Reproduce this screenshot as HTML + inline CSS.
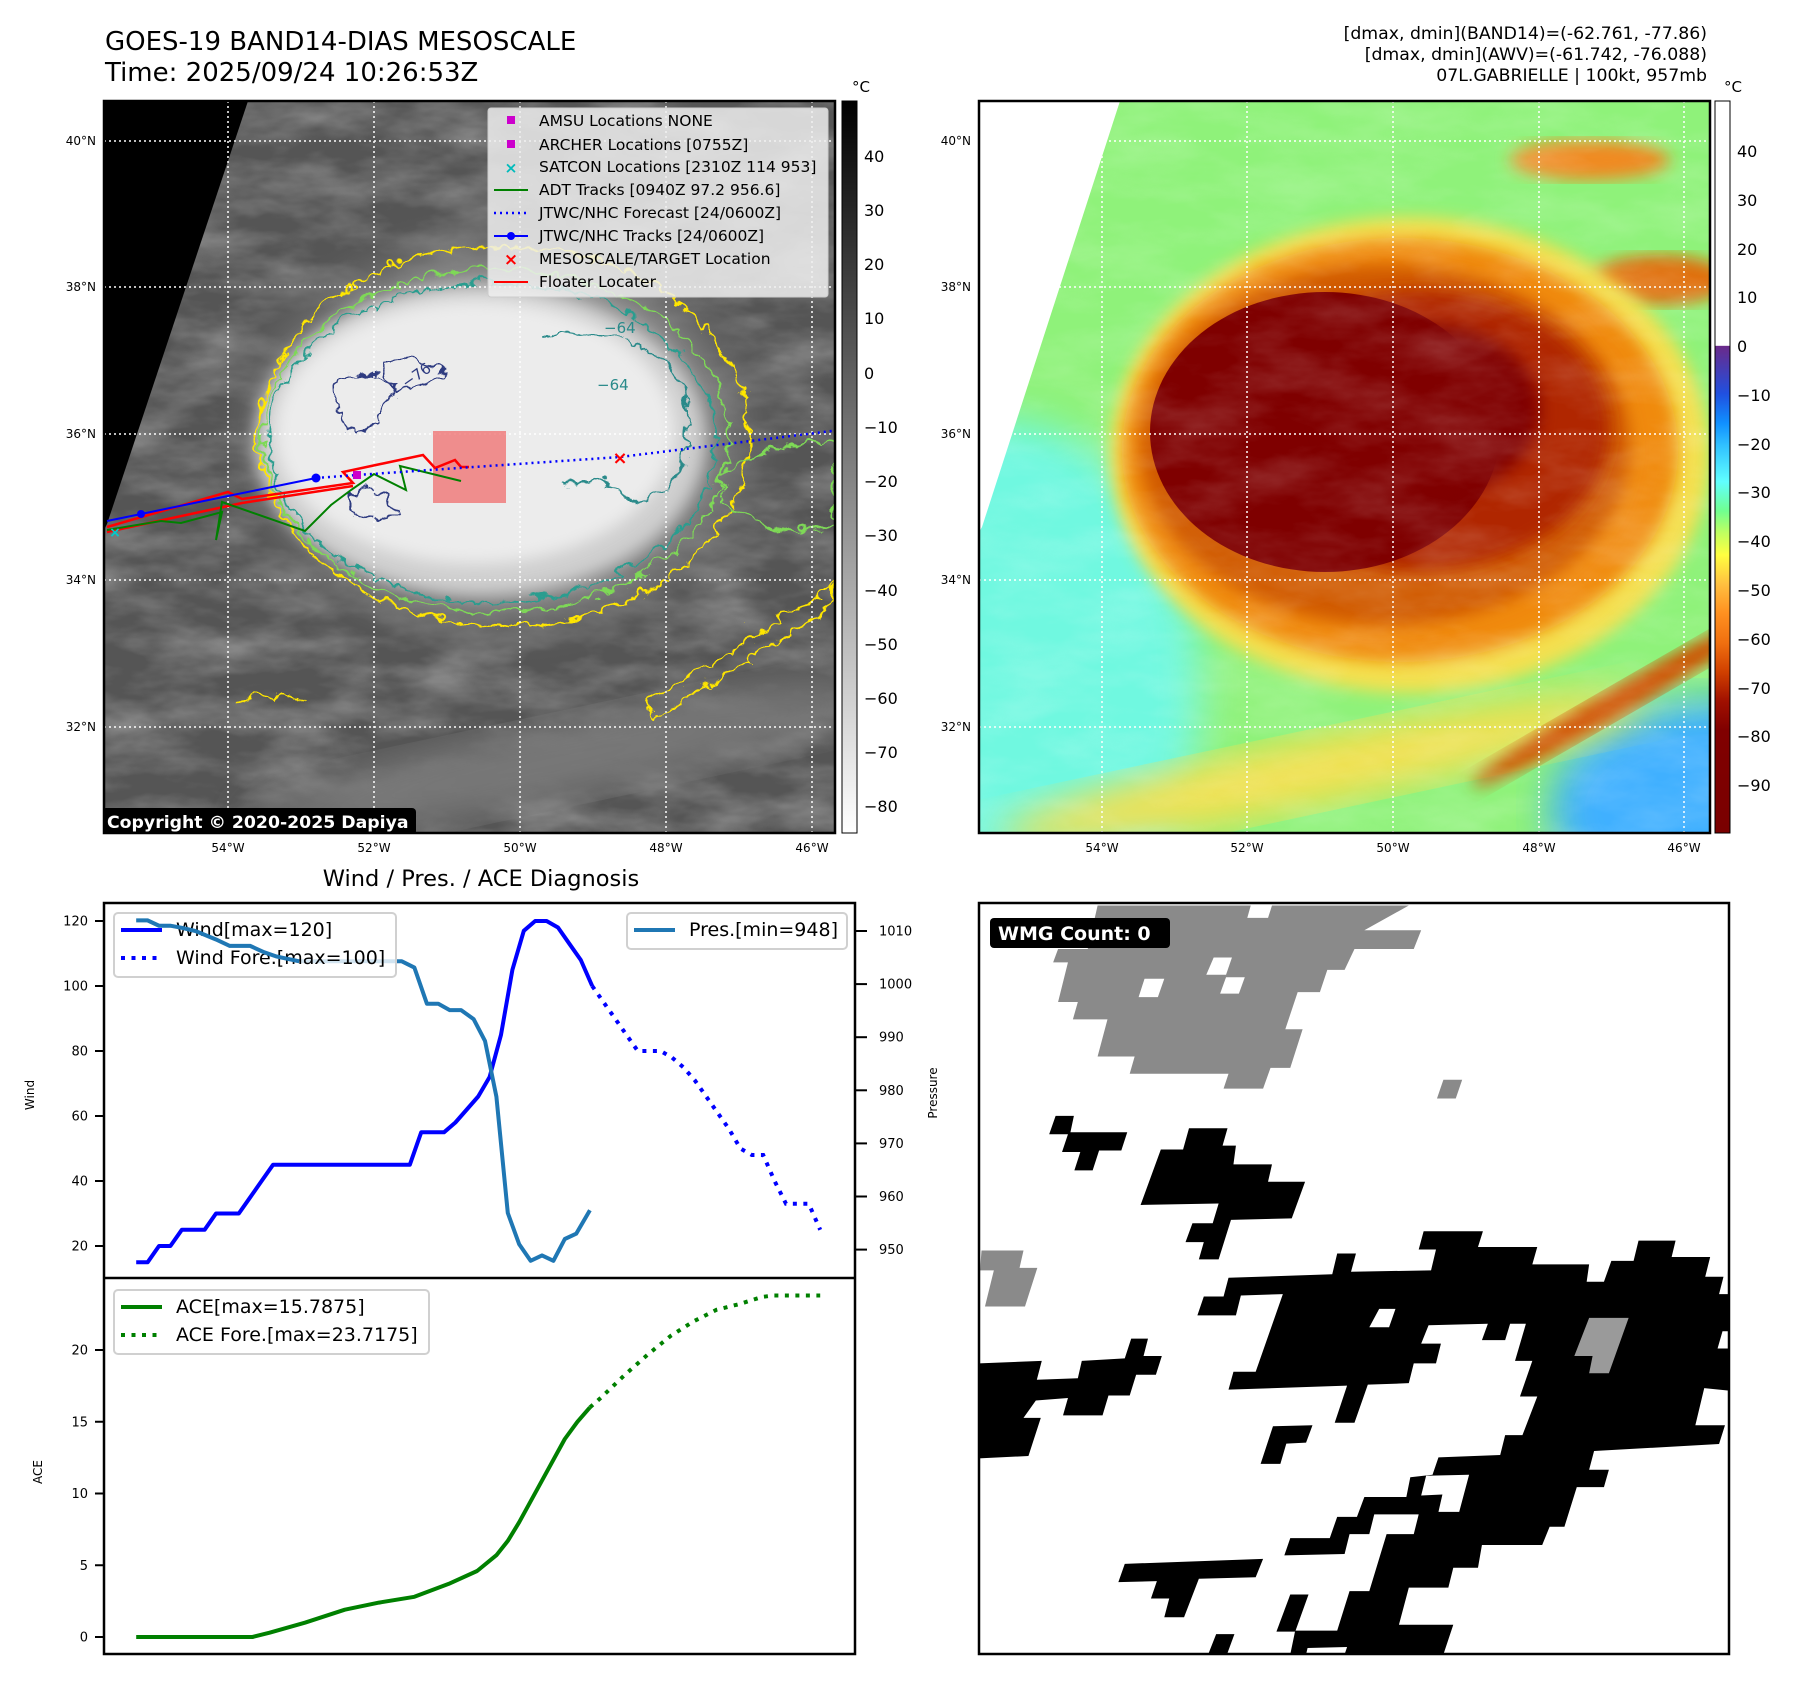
<!DOCTYPE html>
<html><head><meta charset="utf-8"><style>
html,body{margin:0;padding:0;background:#fff}
svg{display:block;font-family:"DejaVu Sans","Liberation Sans",sans-serif}
</style></head><body>
<svg id="fig" width="1797" height="1690" viewBox="0 0 1797 1690" xmlns="http://www.w3.org/2000/svg">
<defs>
<clipPath id="c1"><rect x="104" y="101" width="731" height="732"/></clipPath>
<clipPath id="c2"><rect x="979" y="101" width="731" height="732"/></clipPath>
<clipPath id="c3"><rect x="979" y="903" width="750" height="751"/></clipPath>
<filter id="clouds" x="0" y="0" width="100%" height="100%"><feTurbulence type="fractalNoise" baseFrequency="0.012 0.03" numOctaves="4" seed="7"/><feColorMatrix type="matrix" values="0 0 0 0 1 0 0 0 0 1 0 0 0 0 1 1.6 0 0 0 -0.55"/></filter>
<filter id="wob" x="-10%" y="-10%" width="120%" height="120%"><feTurbulence type="turbulence" baseFrequency="0.045" numOctaves="2" seed="3" result="n"/><feDisplacementMap in="SourceGraphic" in2="n" scale="16" xChannelSelector="R" yChannelSelector="G"/></filter>
<filter id="blur8"><feGaussianBlur stdDeviation="8"/></filter>
<filter id="blur20"><feGaussianBlur stdDeviation="20"/></filter>
<linearGradient id="gray" x1="0" y1="0" x2="0" y2="1"><stop offset="0" stop-color="#000"/><stop offset="1" stop-color="#fff"/></linearGradient>
<linearGradient id="cmap" x1="0" y1="0" x2="0" y2="1">
<stop offset="0" stop-color="#fff"/><stop offset="0.334" stop-color="#fff"/>
<stop offset="0.335" stop-color="#6a2a8a"/><stop offset="0.40" stop-color="#2050e0"/>
<stop offset="0.44" stop-color="#1090ff"/><stop offset="0.47" stop-color="#30c0ff"/>
<stop offset="0.52" stop-color="#60ffff"/><stop offset="0.56" stop-color="#70ff90"/>
<stop offset="0.59" stop-color="#c0ff60"/><stop offset="0.62" stop-color="#ffff40"/>
<stop offset="0.66" stop-color="#ffc040"/><stop offset="0.70" stop-color="#ff9020"/>
<stop offset="0.74" stop-color="#f07010"/><stop offset="0.78" stop-color="#d04000"/>
<stop offset="0.82" stop-color="#a01000"/><stop offset="0.86" stop-color="#800000"/><stop offset="1" stop-color="#7a0000"/>
</linearGradient>
<radialGradient id="glow"><stop offset="0" stop-color="#bdbdbd"/><stop offset="0.7" stop-color="#8a8a8a"/><stop offset="1" stop-color="#5a5a5a" stop-opacity="0"/></radialGradient>
</defs>

<text x="105" y="50" font-size="26">GOES-19 BAND14-DIAS MESOSCALE</text>
<text x="105" y="81" font-size="26">Time: 2025/09/24 10:26:53Z</text>
<g font-size="17.3" text-anchor="end">
<text x="1707" y="39">[dmax, dmin](BAND14)=(-62.761, -77.86)</text>
<text x="1707" y="60">[dmax, dmin](AWV)=(-61.742, -76.088)</text>
<text x="1707" y="81">07L.GABRIELLE | 100kt, 957mb</text>
</g>

<g clip-path="url(#c1)">
<rect x="104" y="101" width="731" height="732" fill="#555"/>
<rect x="104" y="101" width="731" height="732" filter="url(#clouds)" opacity="0.35"/>
<ellipse cx="560" cy="760" rx="320" ry="40" fill="#777" filter="url(#blur20)" transform="rotate(-12 560 760)"/>
<ellipse cx="500" cy="435" rx="290" ry="230" fill="url(#glow)"/>
<ellipse cx="480" cy="440" rx="225" ry="155" fill="#cfcfcf" filter="url(#blur8)"/>
<ellipse cx="475" cy="432" rx="200" ry="132" fill="#ececec" filter="url(#blur8)"/>
<g fill="none" stroke-width="2" filter="url(#wob)">
<ellipse cx="500" cy="432" rx="245" ry="190" stroke="#ffe600"/>
<ellipse cx="492" cy="436" rx="233" ry="172" stroke="#7ed957"/>
<ellipse cx="488" cy="438" rx="224" ry="160" stroke="#2a9d8f"/>
<path d="M540 330 Q640 320 680 380 Q700 470 640 500 Q600 470 560 480" stroke="#2a8a8a"/>
<path d="M330 380 Q360 360 390 380 Q380 420 350 430 Q330 410 330 380Z M380 360 Q420 350 440 370 Q420 390 390 390Z M345 490 Q380 480 395 510 Q370 520 345 505Z" stroke="#2d3a80"/>
<path d="M640 700 Q740 640 830 580 L830 600 Q740 660 650 715Z" stroke="#ffe600"/>
<path d="M230 700 Q260 690 300 695" stroke="#ffe600"/>
<path d="M720 470 Q780 430 830 440 L830 520 Q770 540 720 500Z" stroke="#7ed957"/>
</g>
<g font-size="15" fill="#2a8a8a"><text x="604" y="333">−64</text><text x="597" y="390">−64</text></g>
<text x="402" y="385" font-size="15" fill="#2d3a80" transform="rotate(-35 410 380)">−76</text>
<polygon points="104,101 248,101 107,524 104,530" fill="#000"/>
<g stroke="#fff" stroke-width="1.5" stroke-dasharray="2 3">
<line x1="228" y1="101" x2="228" y2="833"/><line x1="374" y1="101" x2="374" y2="833"/><line x1="520" y1="101" x2="520" y2="833"/><line x1="666" y1="101" x2="666" y2="833"/><line x1="812" y1="101" x2="812" y2="833"/>
<line x1="104" y1="141" x2="835" y2="141"/><line x1="104" y1="287" x2="835" y2="287"/><line x1="104" y1="434" x2="835" y2="434"/><line x1="104" y1="580" x2="835" y2="580"/><line x1="104" y1="727" x2="835" y2="727"/>
</g>
<rect x="433" y="431" width="73" height="72" fill="rgb(240,110,110)" opacity="0.75"/>
<polyline points="107,527 228,492 242,499 353,483 343,472 423,455 435,468 455,460 461,467 469,467" fill="none" stroke="#f00" stroke-width="2.5"/>
<polyline points="107,532 242,503 353,486" fill="none" stroke="#f00" stroke-width="2.5"/>
<polyline points="107,530 161,521 181,523 222,512 216,540 222,502 305,531 331,505 351,490 374,474 406,490 400,466 461,481" fill="none" stroke="#008000" stroke-width="2"/>
<polyline points="107,521 141,514 228,496 316,478" fill="none" stroke="#00f" stroke-width="2"/>
<g fill="#00f"><circle cx="141" cy="514" r="4"/><circle cx="316" cy="478" r="4.5"/></g>
<polyline points="316,478 357,475 620,457 832,431" fill="none" stroke="#00f" stroke-width="2.5" stroke-dasharray="2 4"/>
<rect x="353" y="471" width="8" height="8" fill="#c0c"/>
<text x="620" y="464" font-size="18" fill="#f00" text-anchor="middle" font-weight="bold">×</text>
<text x="115" y="537" font-size="14" fill="#0cc" text-anchor="middle" font-weight="bold">×</text>
<g>
<rect x="488" y="108" width="340" height="189" rx="3" fill="#eee" fill-opacity="0.85" stroke="#ccc"/>
<g font-size="15.5">
<rect x="507" y="116" width="8" height="8" fill="#c0c"/><text x="539" y="126">AMSU Locations NONE</text>
<rect x="507" y="140" width="8" height="8" fill="#c0c"/><text x="539" y="150">ARCHER Locations [0755Z]</text>
<text x="511" y="173" fill="#0bb" text-anchor="middle" font-weight="bold">×</text><text x="539" y="172">SATCON Locations [2310Z 114 953]</text>
<line x1="494" y1="190" x2="528" y2="190" stroke="#008000" stroke-width="2"/><text x="539" y="195">ADT Tracks [0940Z 97.2 956.6]</text>
<line x1="494" y1="213" x2="528" y2="213" stroke="#00f" stroke-width="2.5" stroke-dasharray="2 4"/><text x="539" y="218">JTWC/NHC Forecast [24/0600Z]</text>
<line x1="494" y1="236" x2="528" y2="236" stroke="#00f" stroke-width="2"/><circle cx="511" cy="236" r="4" fill="#00f"/><text x="539" y="241">JTWC/NHC Tracks [24/0600Z]</text>
<text x="511" y="265" fill="#f00" text-anchor="middle" font-weight="bold" font-size="17">×</text><text x="539" y="264">MESOSCALE/TARGET Location</text>
<line x1="494" y1="282" x2="528" y2="282" stroke="#f00" stroke-width="2"/><text x="539" y="287">Floater Locater</text>
</g></g>
<rect x="102" y="808" width="314" height="27" rx="4" fill="#000"/>
<text x="107" y="828" font-size="17.3" font-weight="bold" fill="#fff">Copyright © 2020-2025 Dapiya</text>
</g>
<rect x="104" y="101" width="731" height="732" fill="none" stroke="#000" stroke-width="2.5"/>
<g font-size="12" text-anchor="end">
<text x="96" y="145">40°N</text><text x="96" y="291">38°N</text><text x="96" y="438">36°N</text><text x="96" y="584">34°N</text><text x="96" y="731">32°N</text></g>
<g font-size="12" text-anchor="middle">
<text x="228" y="852">54°W</text><text x="374" y="852">52°W</text><text x="520" y="852">50°W</text><text x="666" y="852">48°W</text><text x="812" y="852">46°W</text></g>
<rect x="842" y="101" width="15" height="732" fill="url(#gray)" stroke="#000"/>
<text x="861" y="92" font-size="15" text-anchor="middle">°C</text>
<g font-size="16">
<text x="864" y="162">40</text><text x="864" y="216">30</text><text x="864" y="270">20</text><text x="864" y="324">10</text><text x="864" y="379">0</text><text x="864" y="433">−10</text><text x="864" y="487">−20</text><text x="864" y="541">−30</text><text x="864" y="596">−40</text><text x="864" y="650">−50</text><text x="864" y="704">−60</text><text x="864" y="758">−70</text><text x="864" y="812">−80</text></g>

<g clip-path="url(#c2)">
<rect x="979" y="101" width="731" height="732" fill="#8ff27a"/>
<ellipse cx="1000" cy="690" rx="200" ry="270" fill="#70f8e0" filter="url(#blur20)"/>
<ellipse cx="1720" cy="810" rx="170" ry="110" fill="#40b0ff" filter="url(#blur20)"/>
<ellipse cx="1320" cy="770" rx="330" ry="35" fill="#f4e050" filter="url(#blur20)" transform="rotate(-12 1320 770)"/>
<ellipse cx="1620" cy="700" rx="170" ry="14" fill="#d05000" filter="url(#blur8)" transform="rotate(-30 1620 700)"/>
<ellipse cx="1590" cy="160" rx="80" ry="20" fill="#f08a20" filter="url(#blur8)"/>
<ellipse cx="1660" cy="280" rx="70" ry="25" fill="#e07010" filter="url(#blur8)"/>
<ellipse cx="1420" cy="290" rx="70" ry="16" fill="#f09a30" filter="url(#blur8)"/>
<ellipse cx="1410" cy="455" rx="300" ry="238" fill="#f4e050" filter="url(#blur8)"/>
<ellipse cx="1400" cy="450" rx="278" ry="212" fill="#f08a10" filter="url(#blur8)"/>
<ellipse cx="1385" cy="445" rx="245" ry="180" fill="#d05a00" filter="url(#blur8)"/>
<ellipse cx="1420" cy="430" rx="190" ry="140" fill="#b02800" filter="url(#blur8)"/>
<ellipse cx="1325" cy="432" rx="175" ry="140" fill="#7f0000"/>
<ellipse cx="1430" cy="410" rx="110" ry="85" fill="#800000" filter="url(#blur8)"/>
<rect x="979" y="101" width="731" height="732" filter="url(#clouds)" opacity="0.18"/>
<polygon points="979,101 1120,101 982,527 979,532" fill="#fff"/>
<g stroke="#fff" stroke-width="1.5" stroke-dasharray="2 3">
<line x1="1102" y1="101" x2="1102" y2="833"/><line x1="1247" y1="101" x2="1247" y2="833"/><line x1="1393" y1="101" x2="1393" y2="833"/><line x1="1539" y1="101" x2="1539" y2="833"/><line x1="1684" y1="101" x2="1684" y2="833"/>
<line x1="979" y1="141" x2="1710" y2="141"/><line x1="979" y1="287" x2="1710" y2="287"/><line x1="979" y1="434" x2="1710" y2="434"/><line x1="979" y1="580" x2="1710" y2="580"/><line x1="979" y1="727" x2="1710" y2="727"/>
</g></g>
<rect x="979" y="101" width="731" height="732" fill="none" stroke="#000" stroke-width="2.5"/>
<g font-size="12" text-anchor="end">
<text x="971" y="145">40°N</text><text x="971" y="291">38°N</text><text x="971" y="438">36°N</text><text x="971" y="584">34°N</text><text x="971" y="731">32°N</text></g>
<g font-size="12" text-anchor="middle">
<text x="1102" y="852">54°W</text><text x="1247" y="852">52°W</text><text x="1393" y="852">50°W</text><text x="1539" y="852">48°W</text><text x="1684" y="852">46°W</text></g>
<rect x="1715" y="101" width="15" height="732" fill="url(#cmap)" stroke="#000"/>
<text x="1733" y="92" font-size="15" text-anchor="middle">°C</text>
<g font-size="16">
<text x="1737" y="157">40</text><text x="1737" y="206">30</text><text x="1737" y="255">20</text><text x="1737" y="303">10</text><text x="1737" y="352">0</text><text x="1737" y="401">−10</text><text x="1737" y="450">−20</text><text x="1737" y="498">−30</text><text x="1737" y="547">−40</text><text x="1737" y="596">−50</text><text x="1737" y="645">−60</text><text x="1737" y="694">−70</text><text x="1737" y="742">−80</text><text x="1737" y="791">−90</text></g>

<text x="481" y="886" font-size="22.5" text-anchor="middle">Wind / Pres. / ACE Diagnosis</text>
<g id="chart"></g>

<g clip-path="url(#c3)">
<g transform="translate(974.1,895.6) scale(0.494,0.495)">
<polygon fill="#8a8a8a" points="250,20 880,20 790,70 905,70 890,108 770,108 750,150 715,150 700,195 655,195 630,270 665,270 640,348 600,348 585,390 505,390 515,360 315,360 325,325 250,325 270,250 200,250 210,215 170,215 190,135 160,135 170,108 230,108"/>
<g fill="#fff"><polygon points="345,168 385,168 372,205 333,205"/><polygon points="485,125 522,125 510,160 470,160"/><polygon points="510,165 548,165 536,198 498,198"/><polygon points="560,20 603,20 595,45 553,45"/></g>
<polygon fill="#8a8a8a" points="950,372 988,372 975,410 937,410"/>
<polygon fill="#8a8a8a" points="15,717 100,717 92,752 128,752 103,830 22,830 40,757 12,757"/>
<polygon fill="#000" points="165,445 202,445 195,478 310,478 298,515 253,515 240,555 203,555 215,518 178,518 190,482 152,482"/>
<polygon fill="#000" points="435,470 513,470 503,505 530,505 525,543 603,543 595,578 670,578 643,652 520,655 495,735 455,735 465,700 428,700 442,662 483,662 495,622 337,625 378,513 423,513"/>
<polygon fill="#000" points="515,772 725,765 735,723 773,723 763,760 925,757 935,715 900,715 910,678 1030,678 1020,710 1140,710 1130,745 1245,745 1240,780 1275,780 1290,738 1335,738 1345,697 1420,697 1412,730 1490,730 1480,770 1517,770 1508,805 1528,805 1528,1000 1478,995 1460,1070 1520,1070 1508,1108 1255,1122 1245,1160 1285,1160 1275,1195 1220,1195 1195,1275 1165,1275 1150,1312 1028,1312 1020,1358 970,1358 960,1398 880,1398 860,1473 970,1473 950,1533 640,1533 650,1485 735,1485 760,1405 800,1405 835,1290 890,1290 900,1250 810,1250 800,1290 760,1290 750,1330 628,1333 640,1298 720,1298 735,1255 775,1255 790,1215 875,1215 883,1175 928,1170 940,1135 1065,1130 1075,1090 1110,1090 1140,1012 1105,1012 1130,940 1095,940 1117,865 1085,865 1075,898 1028,898 1040,865 920,868 905,905 945,905 935,945 890,945 880,985 797,988 770,1065 730,1065 755,990 515,998 525,962 570,962 625,805 540,808 530,848 452,848 465,810 505,810"/>
<polygon fill="#fff" points="820,835 853,835 840,872 800,872"/>
<polygon fill="#fff" points="915,1172 1002,1170 982,1245 940,1245 948,1210 905,1212"/>
<polygon fill="#fff" points="675,1520 755,1518 750,1533 672,1533"/>
<polygon fill="#fff" points="1515,880 1528,880 1528,915 1505,915"/>
<polygon fill="#9a9a9a" points="1245,853 1325,853 1285,965 1245,965 1252,930 1215,930"/>
<polygon fill="#000" points="10,945 137,940 127,978 210,975 218,940 305,935 318,895 352,895 343,930 380,930 368,968 328,968 315,1010 272,1010 260,1050 180,1050 190,1015 125,1020 100,1055 135,1055 110,1132 10,1137 10,1180"/>
<polygon fill="#000" points="605,1072 685,1070 672,1105 632,1107 620,1148 580,1148"/>
<polygon fill="#000" points="305,1350 585,1340 570,1377 455,1380 425,1458 385,1458 395,1420 358,1420 370,1385 292,1387"/>
<polygon fill="#000" points="640,1412 677,1412 650,1487 612,1487"/>
<polygon fill="#000" points="490,1492 527,1492 513,1530 475,1530"/>
</g></g>
<rect x="979" y="903" width="750" height="751" fill="none" stroke="#000" stroke-width="2.5"/>
<rect x="990" y="918" width="180" height="30" rx="4" fill="#000"/>
<text x="998" y="940" font-size="19" font-weight="bold" fill="#fff">WMG Count: 0</text>
</svg>
<script>
const windT = [0,1,2,3,4,5,6,7,8,9,10,11,12,13,14,15,16,17,18,19,20,21,22,23,24,25,26,27,28,29,30,31,32,33,34,35,36,37,38,39,40];
const windV = [15,15,20,20,25,25,25,30,30,30,35,40,45,45,45,45,45,45,45,45,45,45,45,45,45,55,55,55,58,62,66,72,85,105,117,120,120,118,113,108,100];
const foreT = [40,41,42,43,44,45,46,47,48,49,50,51,52,53,54,55,56,57,58,59,60];
const foreV = [100,95,90,85,80,80,80,78,75,71,66,61,56,50,48,48,40,33,33,33,25];
const presT = [0,1,2,3,4,5.2,7,8.2,10,11.2,12.3,14.3,23.3,24.4,25.5,26.5,27.5,28.5,29.6,30.6,31.6,32.6,33.6,34.6,35.6,36.6,37.6,38.6,39.8];
const presV = [1012,1012,1011,1011,1010.6,1010,1008.4,1007.2,1007.2,1006,1005.2,1004.3,1004.3,1003.1,996.3,996.3,995.1,995.1,993.4,989.3,978.8,956.9,951,947.9,948.9,947.9,952,953,957.4];
const aceT = [0,10.2,11.7,14.8,18.3,21.3,24.4,27.4,29.9,31.6,32.6,33.6,35.6,37.6,38.7,39.8];
const aceV = [0,0,0.3,1.0,1.9,2.4,2.8,3.7,4.6,5.7,6.7,8.0,10.9,13.8,15.0,16.0];
const aceFT = [39.8,40.8,42.9,44.9,46.9,48.9,50.9,52.9,54.9,55.9,60];
const aceFV = [16.0,16.7,18.3,19.7,21.0,22.0,22.8,23.2,23.7,23.8,23.8];
const windTicks = [20,40,60,80,100,120];
const presTicks = [950,960,970,980,990,1000,1010];
const aceTicks = [0,5,10,15,20];

const NS='http://www.w3.org/2000/svg';
const g=document.getElementById('chart');
const X0=104,X1=855,YT=903,YM=1278,YB=1654;
function xOf(t){return 136.2+t*11.40;}
function yW(v){return 921+(120-v)*3.25;}
function yP(p){return 931+(1010-p)*5.31;}
function yA(a){return 1637-a*14.35;}
function mk(tag,attrs,parent){const e=document.createElementNS(NS,tag);for(const k in attrs)e.setAttribute(k,attrs[k]);(parent||g).appendChild(e);return e;}
function pts(T,V,f){return T.map((t,i)=>xOf(t).toFixed(1)+','+f(V[i]).toFixed(1)).join(' ');}

let e;
e=mk('polyline',{points:pts(windT,windV,yW),fill:'none',stroke:'#0000ff','stroke-width':4,'stroke-linejoin':'round'});


e=mk('polyline',{points:pts(foreT,foreV,yW),fill:'none',stroke:'#0000ff','stroke-width':4,'stroke-dasharray':'4 6.5'});


e=mk('polyline',{points:pts(presT,presV,yP),fill:'none',stroke:'#1f77b4','stroke-width':4,'stroke-linejoin':'round'});


e=mk('polyline',{points:pts(aceT,aceV,yA),fill:'none',stroke:'#008000','stroke-width':4,'stroke-linejoin':'round'});


e=mk('polyline',{points:pts(aceFT,aceFV,yA),fill:'none',stroke:'#008000','stroke-width':4,'stroke-dasharray':'4 6.5'});



e=mk('rect',{x:X0,y:YT,width:X1-X0,height:YB-YT,fill:'none',stroke:'#000','stroke-width':2.5});


e=mk('line',{x1:X0,y1:YM,x2:X1,y2:YM,stroke:'#000','stroke-width':2.5});



windTicks.forEach(v=>{const y=yW(v);
 e=mk('line',{x1:X0-9,y1:y,x2:X0,y2:y,stroke:'#000','stroke-width':2});
 
 
 e=mk('text',{x:X0-16,y:y+4.5,'font-size':13,'text-anchor':'end'});e.textContent=v;
 
 });
presTicks.forEach(v=>{const y=yP(v);
 e=mk('line',{x1:X1,y1:y,x2:X1+12,y2:y,stroke:'#000','stroke-width':2});
 
 
 e=mk('text',{x:879,y:y+4.5,'font-size':13});e.textContent=v;
 
 });
aceTicks.forEach(v=>{const y=yA(v);
 e=mk('line',{x1:X0-9,y1:y,x2:X0,y2:y,stroke:'#000','stroke-width':2});
 
 
 e=mk('text',{x:X0-16,y:y+4.5,'font-size':13,'text-anchor':'end'});e.textContent=v;
 
 });

e=mk('text',{x:34,y:1095,'font-size':12,'text-anchor':'middle',transform:'rotate(-90 34 1095)'});e.textContent='Wind';


e=mk('text',{x:937,y:1093,'font-size':12,'text-anchor':'middle',transform:'rotate(-90 937 1093)'});e.textContent='Pressure';


e=mk('text',{x:42,y:1472,'font-size':12,'text-anchor':'middle',transform:'rotate(-90 42 1472)'});e.textContent='ACE';



function legend(name,x,y,w,h,items){
 const lg=mk('g',{});
 
 
 mk('rect',{x:x,y:y,width:w,height:h,rx:4,fill:'#fff','fill-opacity':0.8,stroke:'#d0d0d0','stroke-width':2},lg);
 items.forEach((it,i)=>{const yy=y+17+i*28;
  const a={x1:x+7,y1:yy,x2:x+48,y2:yy,stroke:it.c,'stroke-width':4};
  if(it.d)a['stroke-dasharray']='4 6.5';
  mk('line',a,lg);
  const t=mk('text',{x:x+62,y:yy+6,'font-size':19},lg);t.textContent=it.t;});
}
legend('wind-legend',114,913,282,64,[{c:'#0000ff',t:'Wind[max=120]'},{c:'#0000ff',t:'Wind Fore.[max=100]',d:1}]);
legend('pressure-legend',627,913,220,36,[{c:'#1f77b4',t:'Pres.[min=948]'}]);
legend('ace-legend',114,1290,315,64,[{c:'#008000',t:'ACE[max=15.7875]'},{c:'#008000',t:'ACE Fore.[max=23.7175]',d:1}]);
e=mk('polyline',{points:pts(presT.slice(0,12),presV.slice(0,12),yP),fill:'none',stroke:'#1f77b4','stroke-width':4});


</script>
</body></html>
